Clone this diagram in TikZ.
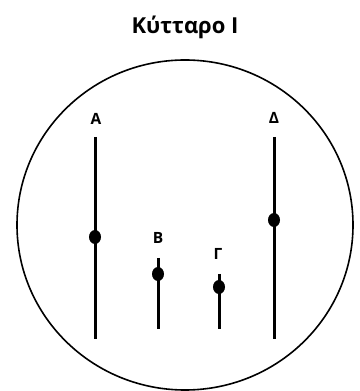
\documentclass[tikz,border=0pt]{standalone}
\usepackage{fontspec}
\setmainfont{Open Sans}
\usetikzlibrary{shapes.geometric}
\begin{document}
\begin{tikzpicture}[x=1pt,y=1pt,
  chrom/.style={line width=3pt},
  centro/.style={ellipse,fill=black,minimum width=12pt,minimum height=14pt,inner sep=0pt},
  lbl/.style={font=\bfseries\fontsize{15.5}{18}\selectfont},
  ttl/.style={font=\bfseries\fontsize{22}{26}\selectfont}]
\useasboundingbox (0,0) rectangle (359,391);
\node[ttl] (title) at (185,364) {Κύτταρο I};
\draw[line width=1.6pt] (185,166) ellipse [x radius=168, y radius=165];
% A
\coordinate (a1) at (95,254); \coordinate (a2) at (95,52);
\draw[chrom] (a1) -- (a2);
\node[centro] (ca) at (95,154) {};
\node[lbl] (la) at (96,272) {Α};
% B
\coordinate (b1) at (158,133); \coordinate (b2) at (158,62);
\draw[chrom] (b1) -- (b2);
\node[centro] (cb) at (158,117) {};
\node[lbl] (lb) at (158,153) {Β};
% Gamma
\coordinate (g1) at (219,117); \coordinate (g2) at (219,62);
\draw[chrom] (g1) -- (g2);
\node[centro] (cg) at (219,104) {};
\node[lbl] (lg) at (218,137) {Γ};
% Delta
\coordinate (d1) at (274,254); \coordinate (d2) at (274,52);
\draw[chrom] (d1) -- (d2);
\node[centro] (cd) at (274,171) {};
\node[lbl] (ld) at (274,273) {Δ};
\end{tikzpicture}
\end{document}
